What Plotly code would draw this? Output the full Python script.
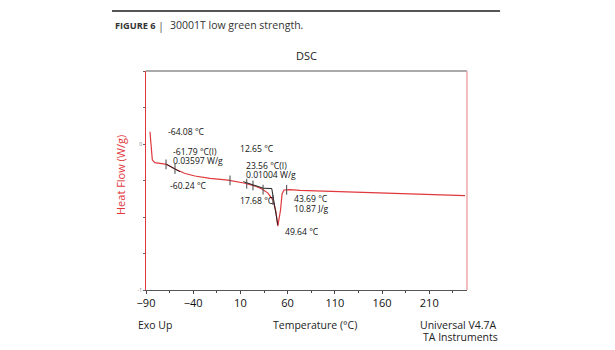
import numpy as np
import plotly.graph_objects as go

# ---- data ----
temp_c = [-85.8, -84.7, -83.3, -80.5, -75.2, -68.1, -59.3, -48.7, -38.1, -22.2,
          -3.1, 14.9, 25.5, 32.9, 39.2, 44.5, 47.7, 49.6, 52.5, 54.1, 56.2,
          62.5, 73.1, 126.1, 179.1, 247.9]
heat_flow = [0.084, -0.007, -0.110, -0.128, -0.135, -0.140, -0.171, -0.202, -0.219, -0.235,
             -0.247, -0.269, -0.288, -0.308, -0.336, -0.384, -0.466, -0.562, -0.452, -0.342, -0.315,
             -0.312, -0.318, -0.329, -0.341, -0.353]

# analysis construction lines (tangents / peak integration)
tan1_t = [-68.1, -54.0]
tan1_v = [-0.140, -0.190]
tan2_t = [13.1, 34.3]
tan2_v = [-0.258, -0.303]
peak_t = [34.3, 43.2, 49.6]
peak_v = [-0.303, -0.305, -0.555]

# analysis cursor marks
mark_t = [-68.8, -59.3, -1.0, 16.7, 23.3, 34.0, 44.5, 59.0]

label_texts = ["-64.08 °C", "-61.79 °C(I)", "0.03597 W/g", "-60.24 °C",
               "12.65 °C", "23.56 °C(I)", "0.01004 W/g", "17.68 °C",
               "43.69 °C", "10.87 J/g", "49.64 °C"]
label_pos = [(-68.8, 0.080), (-63.5, -0.056), (-63.5, -0.113), (-67.0, -0.286),
             (7.8, -0.034), (13.8, -0.152), (13.8, -0.211), (7.1, -0.388),
             (65.0, -0.377), (65.0, -0.445), (54.8, -0.605)]

x_ticks = [-90, -40, 10, 60, 110, 160, 210]
y_tickvals = [-1, -0.75, -0.5, -0.25, 0, 0.25, 0.5]
y_ticktext = ["-1", "", "", "", "0", "", ""]

RED = "#e0383c"
FONT = "Open Sans"

fig = go.Figure()
fig.add_trace(go.Scatter(x=temp_c, y=heat_flow, mode="lines",
                         line=dict(color=RED, width=1.2), hoverinfo="skip"))
for tx, ty in [(tan1_t, tan1_v), (tan2_t, tan2_v), (peak_t, peak_v)]:
    fig.add_trace(go.Scatter(x=tx, y=ty, mode="lines",
                             line=dict(color="#222", width=1), hoverinfo="skip"))
fig.add_trace(go.Scatter(x=mark_t, y=np.interp(mark_t, temp_c, heat_flow), mode="markers",
                         marker=dict(symbol="line-ns", size=7,
                                     line=dict(color="#444", width=1)),
                         hoverinfo="skip"))

ann = []
for txt, (px, py) in zip(label_texts, label_pos):
    ann.append(dict(x=px, y=py, xref="x", yref="y", text=txt, showarrow=False,
                    xanchor="left", yanchor="middle",
                    font=dict(family=FONT, size=8.6, color="#111")))

def pa(text, x, y, xa="center", size=11, color="#222", angle=0, family=FONT):
    ann.append(dict(x=x, y=y, xref="paper", yref="paper", text=text, showarrow=False,
                    xanchor=xa, yanchor="middle", textangle=angle,
                    font=dict(family=family, size=size, color=color)))

pa("<b>FIGURE 6</b>", -0.103, 1.210, xa="left", size=9.2, color="#333",
   family="Liberation Sans Narrow, Open Sans")
pa("|", 0.048, 1.210, xa="center", size=11, color="#555")
pa("30001T low green strength.", 0.067, 1.210, xa="left", size=10.5, color="#333")
pa("DSC", 0.5, 1.073, size=11, color="#222")
pa("Exo Up", -0.031, -0.160, xa="left", size=10.5)
pa("Temperature (°C)", 0.526, -0.160, size=10.5)
pa("Universal V4.7A", 1.097, -0.160, xa="right", size=10.5)
pa("TA Instruments", 1.103, -0.213, xa="right", size=10.5)
pa("Heat Flow (W/g)", -0.081, 0.525, size=11, color=RED, angle=-90)

shapes = [
    dict(type="line", xref="paper", yref="paper", x0=-0.106, x1=1.103, y0=1.274, y1=1.274,
         line=dict(color="#555", width=2)),
    dict(type="line", xref="paper", yref="paper", x0=0, x1=1, y0=1, y1=1,
         line=dict(color="#aaaaaa", width=2)),
    dict(type="line", xref="paper", yref="paper", x0=1, x1=1, y0=0, y1=1,
         line=dict(color="#f0a8a8", width=1.5)),
]

fig.update_layout(
    width=615, height=350,
    margin=dict(l=146, r=148, t=71, b=60),
    paper_bgcolor="white", plot_bgcolor="white",
    showlegend=False,
    annotations=ann, shapes=shapes,
    xaxis=dict(range=[-90, 250], tickvals=x_ticks, ticks="outside", ticklen=3,
               tickcolor="#444", showline=True, linecolor="#555", linewidth=1,
               showgrid=False, zeroline=False,
               tickfont=dict(family=FONT, size=11, color="#111"),
               minor=dict(dtick=25, tick0=-65, ticks="outside", ticklen=2, tickcolor="#444")),
    yaxis=dict(range=[-1, 0.5], tickvals=y_tickvals, ticktext=y_ticktext,
               ticks="outside", ticklen=2, tickcolor="#666",
               showline=True, linecolor=RED, linewidth=1,
               showgrid=False, zeroline=False,
               tickfont=dict(family=FONT, size=5, color="#777")),
)

fig.write_html("out.html")
